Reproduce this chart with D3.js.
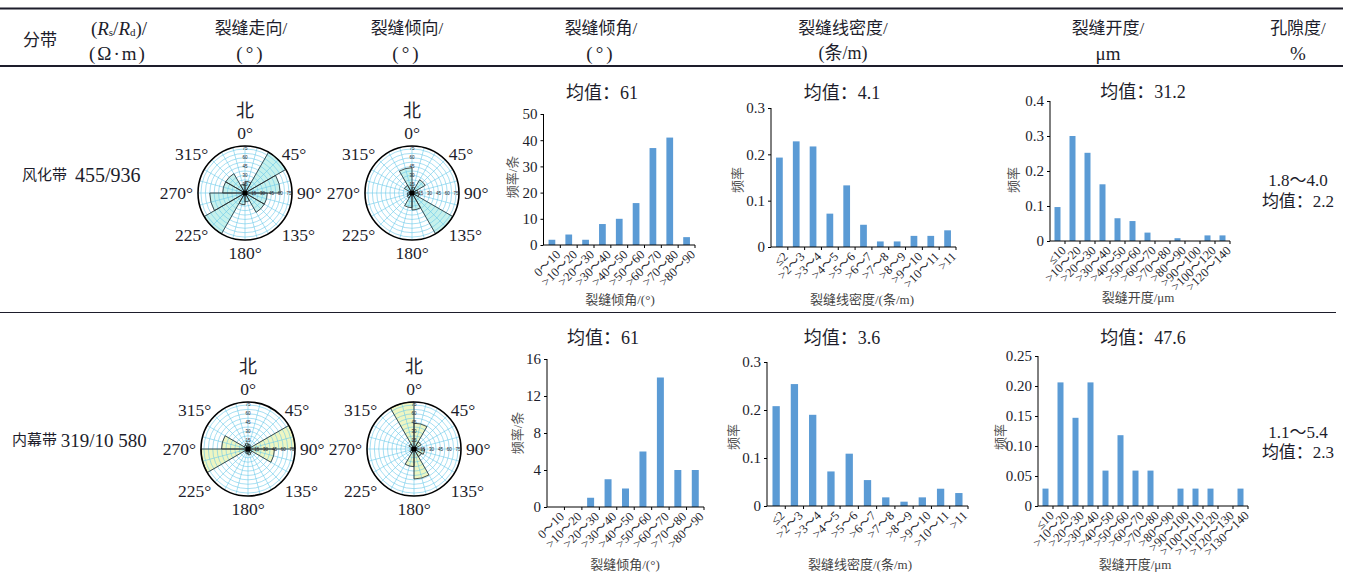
<!DOCTYPE html>
<html>
<head>
<meta charset="utf-8">
<script src="https://cdn.jsdelivr.net/npm/d3@7"></script>
<style>
body { margin: 0; background: #fff; }
text { font-family: "Liberation Serif", "Noto Sans CJK SC", serif; fill: #1d1d2b; }
</style>
</head>
<body>
<svg id="chart" width="1351" height="572"></svg>
<script>
// ---- data ----
var dipCats = ["0～10", ">10～20", ">20～30", ">30～40", ">40～50", ">50～60", ">60～70", ">70～80", ">80～90"];
var dipVals1 = [2, 4, 2, 8, 10, 16, 37, 41, 3];
var dipVals2 = [0, 0, 1, 3, 2, 6, 14, 4, 4];
var dipTicks1 = [0, 10, 20, 30, 40, 50];
var dipTicks2 = [0, 4, 8, 12, 16];

var densCats = ["≤2", ">2～3", ">3～4", ">4～5", ">5～6", ">6～7", ">7～8", ">8～9", ">9～10", ">10～11", ">11"];
var densVals1 = [0.193, 0.228, 0.217, 0.072, 0.133, 0.048, 0.012, 0.012, 0.024, 0.024, 0.036];
var densVals2 = [0.208, 0.254, 0.19, 0.072, 0.109, 0.054, 0.018, 0.009, 0.018, 0.036, 0.027];
var densTicks = [0, 0.1, 0.2, 0.3];

var aperCats1 = ["≤10", ">10～20", ">20～30", ">30～40", ">40～50", ">50～60", ">60～70", ">70～80", ">80～90", ">90～100", ">100～120", ">120～140"];
var aperVals1 = [0.097, 0.30, 0.252, 0.162, 0.065, 0.057, 0.024, 0, 0.008, 0, 0.016, 0.016];
var aperTicks1 = [0, 0.1, 0.2, 0.3, 0.4];
var aperCats2 = ["≤10", ">10～20", ">20～30", ">30～40", ">40～50", ">50～60", ">60～70", ">70～80", ">80～90", ">90～100", ">100～110", ">110～120", ">120～130", ">130～140"];
var aperVals2 = [0.029, 0.206, 0.147, 0.206, 0.059, 0.118, 0.059, 0.059, 0, 0.029, 0.029, 0.029, 0, 0.029];
var aperTicks2 = [0, 0.05, 0.10, 0.15, 0.20, 0.25];

// rose bins (start angle, 30° wide), values on 0-80 radial scale
var roseBins = [0, 30, 60, 90, 120, 150, 180, 210, 240, 270, 300, 330];
var strikeVals1 = [20, 80, 60, 38, 38, 15, 20, 80, 60, 38, 38, 15];
var dipDirVals1 = [10, 26, 10, 12, 80, 29, 25, 10, 8, 5, 15, 43];
var strikeVals2 = [8, 6, 80, 45, 8, 10, 8, 6, 80, 45, 8, 10];
var dipDirVals2 = [44, 14, 5, 18, 15, 51, 30, 8, 5, 5, 10, 80];
var roseRadTicks = [15, 30, 45, 60, 75];
var compassLabels = ["0°", "45°", "90°", "135°", "180°", "225°", "270°", "315°"];

var svg = d3.select("#chart");
var ink = "#1d1d2b";
var barColor = "#5b9bd5";

// ---- table lines ----
svg.append("line").attr("x1", 0).attr("x2", 1343).attr("y1", 8.5).attr("y2", 8.5)
    .attr("stroke", ink).attr("stroke-width", 2);
svg.append("line").attr("x1", 0).attr("x2", 1343).attr("y1", 66).attr("y2", 66)
    .attr("stroke", ink).attr("stroke-width", 2);
svg.append("line").attr("x1", 0).attr("x2", 1336).attr("y1", 312.5).attr("y2", 312.5)
    .attr("stroke", ink).attr("stroke-width", 1);

// ---- header ----
function txt(x, y, s, size, anchor) {
    return svg.append("text").attr("x", x).attr("y", y)
        .attr("text-anchor", anchor || "middle")
        .attr("dominant-baseline", "central")
        .style("font-size", (size || 17) + "px")
        .text(s);
}
txt(40, 40, "分带");
var rs = svg.append("text").attr("x", 119).attr("y", 28).attr("text-anchor", "middle")
    .attr("dominant-baseline", "central").style("font-size", "19px");
rs.append("tspan").text("(");
rs.append("tspan").style("font-style", "italic").text("R");
rs.append("tspan").style("font-size", "11px").attr("dy", 4).text("s");
rs.append("tspan").attr("dy", -4).text("/");
rs.append("tspan").style("font-style", "italic").text("R");
rs.append("tspan").style("font-size", "11px").attr("dy", 4).text("d");
rs.append("tspan").attr("dy", -4).text(")/");
txt(118, 53, "(Ω·m)", 19).style("letter-spacing", "2px");
txt(251, 28, "裂缝走向/");
txt(251, 53, "(°)", 19).style("letter-spacing", "3px");
txt(407, 28, "裂缝倾向/");
txt(407, 53, "(°)", 19).style("letter-spacing", "3px");
txt(601, 28, "裂缝倾角/");
txt(601, 53, "(°)", 19).style("letter-spacing", "3px");
txt(843, 28, "裂缝线密度/");
txt(843, 53, "(条/m)", 18);
txt(1108, 28, "裂缝开度/");
txt(1108, 53, "μm", 19);
txt(1298, 28, "孔隙度/");
txt(1298, 53, "%", 19);

// ---- row labels ----
txt(22, 175, "风化带", 15, "start");
txt(75, 175, "455/936", 20, "start");
var r2 = svg.append("text").attr("x", 12).attr("y", 440).attr("dominant-baseline", "central")
    .style("font-size", "15px");
r2.append("tspan").text("内幕带 ");
r2.append("tspan").style("font-size", "19px").text("319/10 580");
txt(1298, 180, "1.8～4.0");
txt(1298, 201, "均值：2.2");
txt(1298, 432, "1.1～5.4");
txt(1298, 452, "均值：2.3");

// ---- rose diagrams ----
function rad(a) { return a * Math.PI / 180; }

function rose(cx, cy, vals, fill) {
    var g = svg.append("g").attr("transform", "translate(" + cx + "," + cy + ")");
    var r = d3.scaleLinear().domain([0, 80]).range([0, 47]);
    var arc = d3.arc().innerRadius(0);
    var sectors = vals.map(function(v, i) {
        return { outerRadius: r(v), startAngle: rad(roseBins[i]), endAngle: rad(roseBins[i] + 30) };
    });

    g.append("circle").attr("r", r(80)).attr("fill", "#fff");
    g.selectAll("path.sfill").data(sectors).enter().append("path")
        .attr("class", "sfill").attr("d", arc).attr("fill", fill);

    g.selectAll("circle.ring").data(d3.range(7.5, 80, 7.5)).enter().append("circle")
        .attr("class", "ring").attr("r", function(d) { return r(d); })
        .attr("fill", "none").attr("stroke", "#6cc9ea").attr("stroke-width", 0.6);
    g.selectAll("line.spoke").data(d3.range(0, 360, 15)).enter().append("line")
        .attr("class", "spoke")
        .attr("x2", function(d) { return r(80) * Math.sin(rad(d)); })
        .attr("y2", function(d) { return -r(80) * Math.cos(rad(d)); })
        .attr("stroke", "#6cc9ea").attr("stroke-width", 0.6);

    g.selectAll("path.sline").data(sectors.filter(function(s) { return s.outerRadius > 0; }))
        .enter().append("path")
        .attr("class", "sline").attr("d", arc).attr("fill", "none")
        .attr("stroke", "#2a2a2a").attr("stroke-width", 0.8);

    g.append("circle").attr("r", r(80)).attr("fill", "none")
        .attr("stroke", "#000").attr("stroke-width", 1.6);
    g.append("circle").attr("r", 2.6).attr("fill", "#000");

    g.selectAll("text.rn").data(roseRadTicks).enter().append("text")
        .attr("class", "rn").attr("x", 0).attr("y", function(d) { return -r(d); })
        .attr("text-anchor", "middle").attr("dominant-baseline", "central")
        .style("font-size", "4.5px").style("font-family", "Liberation Sans").text(function(d) { return d; });
    g.selectAll("text.re").data(roseRadTicks).enter().append("text")
        .attr("class", "re").attr("x", function(d) { return r(d); }).attr("y", 0)
        .attr("text-anchor", "middle").attr("dominant-baseline", "central")
        .style("font-size", "4.5px").style("font-family", "Liberation Sans").text(function(d) { return d; });

    g.selectAll("text.cmp").data(compassLabels).enter().append("text")
        .attr("class", "cmp")
        .attr("x", function(d, i) {
            var a = i * 45, R = (a % 180 === 0) ? 60 : 52;
            return R * Math.sin(rad(a));
        })
        .attr("y", function(d, i) {
            var a = i * 45, R = (a % 180 === 0) ? 60 : 55;
            return -R * Math.cos(rad(a)) + (a > 90 && a < 270 && a !== 180 ? 3 : 0);
        })
        .attr("text-anchor", function(d, i) {
            var a = i * 45;
            return a === 0 || a === 180 ? "middle" : (a < 180 ? "start" : "end");
        })
        .attr("dominant-baseline", "central")
        .style("font-size", "17.5px").text(function(d) { return d; });

    g.append("text").attr("x", 0).attr("y", -82).attr("text-anchor", "middle")
        .attr("dominant-baseline", "central").style("font-size", "18px").text("北");
}

rose(245, 193, strikeVals1, "#c6f1ec");
rose(412, 193, dipDirVals1, "#c6f1ec");
rose(248, 449, strikeVals2, "#eef6c2");
rose(414, 449, dipDirVals2, "#eef6c2");

// ---- histograms ----
function hist(o) {
    var g = svg.append("g");
    var band = d3.scaleBand().domain(o.cats).range([o.x0, o.x1]);
    var step = band.step();
    var y = d3.scaleLinear().domain([0, o.ticks[o.ticks.length - 1]]).range([o.yb, o.yt]);

    g.selectAll("rect").data(o.vals).enter().append("rect")
        .attr("x", function(d, i) { return band(o.cats[i]) + step * 0.3; })
        .attr("width", step * 0.4)
        .attr("y", function(d) { return y(d); })
        .attr("height", function(d) { return o.yb - y(d); })
        .attr("fill", barColor);

    var ya = g.append("g").attr("transform", "translate(" + o.x0 + ",0)")
        .call(d3.axisLeft(y).tickValues(o.ticks).tickSize(3).tickPadding(3).tickFormat(o.fmt));
    ya.select(".domain").attr("stroke", "#000").attr("d", "M0," + o.yb + "V" + o.yt);
    ya.selectAll("text").style("font-size", "15px").attr("fill", ink);

    var xa = g.append("g").attr("transform", "translate(0," + o.yb + ")");
    xa.append("line").attr("x1", o.x0).attr("x2", o.x1).attr("stroke", "#000");
    xa.selectAll("line.tk").data(d3.range(1, o.cats.length + 1)).enter().append("line")
        .attr("class", "tk")
        .attr("x1", function(i) { return o.x0 + i * step; })
        .attr("x2", function(i) { return o.x0 + i * step; })
        .attr("y2", 3).attr("stroke", "#000");
    xa.selectAll("text").data(o.cats).enter().append("text")
        .attr("transform", function(d) {
            return "translate(" + (band(d) + step / 2 + 3) + ",4) rotate(-45)";
        })
        .attr("text-anchor", "end").attr("dominant-baseline", "hanging")
        .style("font-size", "12.5px").text(function(d) { return d; });

    g.append("text").attr("x", o.tx).attr("y", o.ty).attr("text-anchor", "middle")
        .attr("dominant-baseline", "central").style("font-size", "18px").text(o.title);
    g.append("text").attr("transform", "translate(" + o.ytx + "," + o.yty + ") rotate(-90)")
        .attr("text-anchor", "middle").attr("dominant-baseline", "central")
        .style("font-size", "13px").style("fill", "#555").text(o.ytitle);
    g.append("text").attr("x", o.xtx).attr("y", o.xty).attr("text-anchor", "middle")
        .attr("dominant-baseline", "central").style("font-size", "13px").style("fill", "#444").text(o.xtitle);
}

var fmtDec = function(d) { return d === 0 ? "0" : d3.format(".1f")(d); };
var fmtDec2 = function(d) { return d === 0 ? "0" : d3.format(".2f")(d); };

hist({ x0: 543.5, x1: 695, yt: 114, yb: 245, cats: dipCats, vals: dipVals1, ticks: dipTicks1, fmt: d3.format("d"),
    title: "均值：61", tx: 602, ty: 93, ytitle: "频率/条", ytx: 512, yty: 177, xtitle: "裂缝倾角/(°)", xtx: 620, xty: 299 });
hist({ x0: 771, x1: 956, yt: 108, yb: 247, cats: densCats, vals: densVals1, ticks: densTicks, fmt: fmtDec,
    title: "均值：4.1", tx: 842, ty: 93, ytitle: "频率", ytx: 737, yty: 180, xtitle: "裂缝线密度/(条/m)", xtx: 862, xty: 299 });
hist({ x0: 1050, x1: 1230, yt: 101, yb: 241, cats: aperCats1, vals: aperVals1, ticks: aperTicks1, fmt: fmtDec,
    title: "均值：31.2", tx: 1143, ty: 92, ytitle: "频率", ytx: 1013, yty: 180, xtitle: "裂缝开度/μm", xtx: 1138, xty: 297 });

hist({ x0: 547, x1: 704, yt: 359, yb: 507, cats: dipCats, vals: dipVals2, ticks: dipTicks2, fmt: d3.format("d"),
    title: "均值：61", tx: 603, ty: 338, ytitle: "频率/条", ytx: 517, yty: 433, xtitle: "裂缝倾角/(°)", xtx: 625, xty: 564 });
hist({ x0: 767, x1: 968, yt: 362, yb: 506, cats: densCats, vals: densVals2, ticks: densTicks, fmt: fmtDec,
    title: "均值：3.6", tx: 842, ty: 338, ytitle: "频率", ytx: 733, yty: 437, xtitle: "裂缝线密度/(条/m)", xtx: 860, xty: 564 });
hist({ x0: 1038, x1: 1248, yt: 356, yb: 506, cats: aperCats2, vals: aperVals2, ticks: aperTicks2, fmt: fmtDec2,
    title: "均值：47.6", tx: 1143, ty: 338, ytitle: "频率", ytx: 1000, yty: 437, xtitle: "裂缝开度/μm", xtx: 1135, xty: 564 });
</script>
</body>
</html>
